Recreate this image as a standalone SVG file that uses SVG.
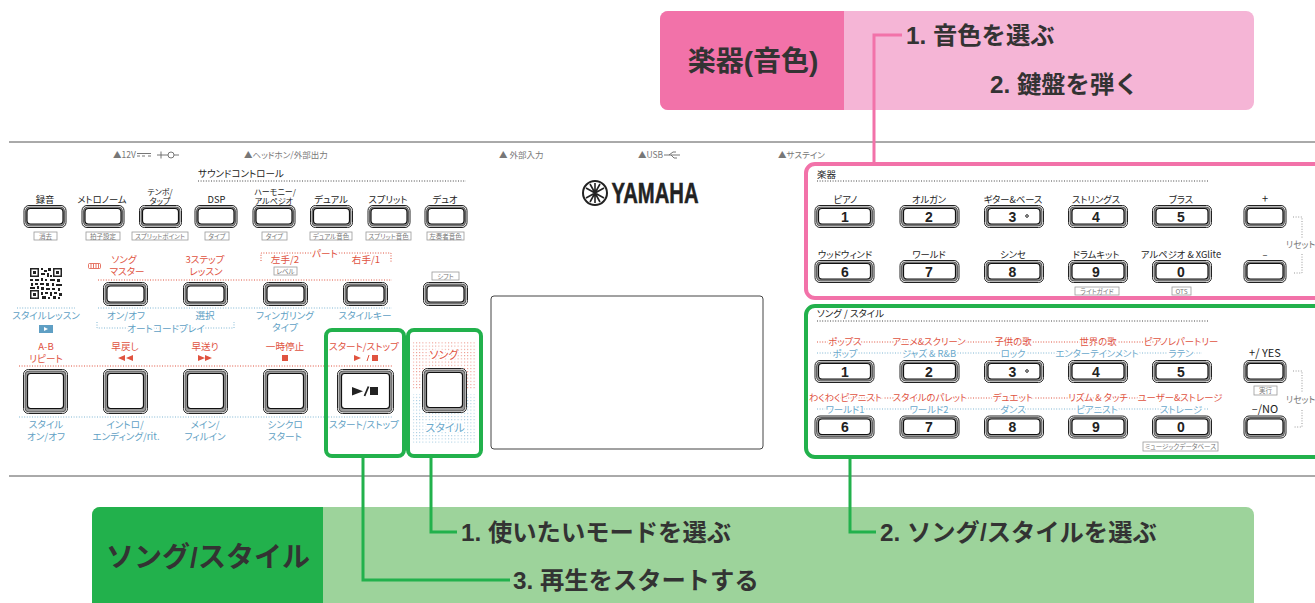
<svg xmlns="http://www.w3.org/2000/svg" width="1315" height="603" viewBox="0 0 1315 603">
<style>
text{font-family:"Noto Sans CJK JP","Noto Sans",sans-serif;text-anchor:middle;font-feature-settings:"palt"}
.k{font-size:9.300px;fill:#222}
.k8{font-size:8px;fill:#222}
.h{font-size:9.500px;fill:#222;text-anchor:start}
.r{font-size:9.600px;fill:#e0533f}
.b{font-size:9.600px;fill:#5f9fc4}
.hr{font-size:9.400px;fill:#e0533f;paint-order:stroke;stroke:#fff;stroke-width:3px}
.hb{font-size:9.400px;fill:#6aa8cb;paint-order:stroke;stroke:#fff;stroke-width:3px}
.g{font-size:8.500px;fill:#777;text-anchor:start}
.g2{font-size:8.800px;fill:#777;text-anchor:start}
.s{font-size:6.500px;fill:#777}
.d{font-family:"Liberation Sans",sans-serif;font-weight:bold;font-size:14px;fill:#222}
.t{font-family:"Liberation Sans","Noto Sans CJK JP",sans-serif;font-weight:700;font-size:24.300px;fill:#333;text-anchor:start;font-feature-settings:normal}
.tt{font-family:"Liberation Sans","Noto Sans CJK JP",sans-serif;font-weight:700;font-size:28px;fill:#333;font-feature-settings:normal}
.o{fill:#fff;stroke:#222;stroke-width:1}
.m{fill:#999;stroke:#333;stroke-width:.7}
.i{fill:#fff;stroke:#111;stroke-width:1.2}
.bx{fill:#fff;stroke:#999;stroke-width:.8}
.dot{fill:none;stroke-width:1;stroke-dasharray:1 1.6}
.dk{stroke:#444}.dr{stroke:#e0533f}.db{stroke:#7fb6d3}.dg{stroke:#999}
.rule{stroke:#555;stroke-width:1;fill:none}
.pk{fill:none;stroke:#f272a9;stroke-width:3}
.gn{fill:none;stroke:#22b14c;stroke-width:3}
.pb{fill:none;stroke:#f272a9;stroke-width:4}
.gb{fill:none;stroke:#22b14c;stroke-width:4}
</style>
<defs>
<symbol id="bs" overflow="visible"><rect class="o" x=".5" y=".5" width="42" height="22" rx="5"/><rect class="m" x="2" y="2" width="39" height="19" rx="4"/><rect class="i" x="3.5" y="3.5" width="36" height="15.5" rx="3.5"/></symbol>
<symbol id="bt" overflow="visible"><rect class="o" x=".5" y=".5" width="44" height="23" rx="5"/><rect class="m" x="2" y="2" width="41" height="20" rx="4"/><rect class="i" x="4" y="4" width="37" height="16" rx="3.5"/></symbol>
<symbol id="bw" overflow="visible"><rect class="o" x=".5" y=".5" width="59" height="22" rx="5"/><rect class="m" x="2" y="2" width="56" height="19" rx="4"/><rect class="i" x="4" y="3.5" width="52" height="15.500" rx="3.5"/></symbol>
<symbol id="bl" overflow="visible"><rect class="o" x=".5" y=".5" width="44" height="44" rx="5"/><rect class="m" x="2" y="2" width="41" height="41" rx="4"/><rect class="i" x="4.5" y="4.5" width="36" height="35" rx="3"/></symbol>
<symbol id="bp" overflow="visible"><rect class="o" x=".5" y=".5" width="56" height="44" rx="5"/><rect class="m" x="2" y="2" width="53" height="41" rx="4"/><rect class="i" x="4.5" y="4.5" width="48" height="35" rx="3"/></symbol>
<pattern id="pr" width="3.2" height="3.2" patternUnits="userSpaceOnUse"><rect width="1" height="1" fill="#e98a7d"/></pattern>
<pattern id="pb" width="3.2" height="3.2" patternUnits="userSpaceOnUse"><rect width="1" height="1" fill="#9cc6de"/></pattern>
</defs>
<rect width="1315" height="603" fill="#fff"/>

<g id="panel-lines">
<path class="rule" d="M9,142H1315M9,476H1315"/>
<path class="dot dk" d="M198,181H466M817,181H1209M817,321H1209"/>
<path class="dot dr" d="M98,280H392M19,366H392"/>
<path class="dot db" d="M17,308H75M98,308H392M19,417H392"/>
<path class="dot dr" d="M817,342H1214M817,398H1214"/>
<path class="dot db" d="M817,353H1202M817,409H1209"/>
<path class="dot dr" d="M261,261V253H391V262"/>
<path class="dot db" d="M97,322V328H234V322"/>
<path class="dot dg" d="M1293,217H1302V238M1302,254V273H1293M1293,371H1302V392M1302,410V427H1293"/>
</g>

<g id="jacks">
<text class="g" x="113" y="158">▲12V</text>
<path d="M137,153.500h14M137,156h3M142,156h3M148,156h3M157,155h8M161,151.500v7M165,155h3M174,155h5" stroke="#666" stroke-width=".9" fill="none"/><circle cx="171" cy="155" r="3" fill="none" stroke="#666" stroke-width=".9"/>
<text class="g" x="244" y="158">▲ヘッドホン/外部出力</text>
<text class="g" x="499" y="158">▲ 外部入力</text>
<text class="g" x="638" y="158">▲USB</text>
<path d="M664,155h16M669,155l4,-3h3M671,155l3,3h3" stroke="#666" stroke-width=".9" fill="none"/>
<text class="g" x="778" y="158">▲サステイン</text>
</g>

<g id="logo">
<circle cx="595" cy="193" r="12" fill="#fff" stroke="#222" stroke-width="2"/>
<path d="M595,183v20M586,188l18,10M586,198l18,-10M590,184l10,18M600,184l-10,18" stroke="#222" stroke-width="1.600"/>
<text x="655" y="203" textLength="87" lengthAdjust="spacingAndGlyphs" style="font-family:'Liberation Sans',sans-serif;font-weight:bold;font-size:29px;fill:#222;stroke:#222;stroke-width:.5;font-feature-settings:normal">YAMAHA</text>
</g>

<text class="h" x="198" y="177">サウンドコントロール</text>

<g id="btn-rec"><text class="k" x="45" y="203">録音</text><use href="#bs" x="23.500" y="205"/><rect class="bx" x="34" y="232" width="23" height="8"/><text class="s" x="45.500" y="238.500">消去</text></g>
<g id="btn-metro"><text class="k" x="102" y="203">メトロノーム</text><use href="#bs" x="81.500" y="205"/><rect class="bx" x="86" y="232" width="34" height="8"/><text class="s" x="103" y="238.500">拍子設定</text></g>
<g id="btn-tempo"><text class="k8" x="160" y="194.500">テンポ/</text><text class="k8" x="160" y="203.500">タップ</text><use href="#bs" x="139" y="205"/><rect class="bx" x="132" y="232" width="56" height="8"/><text class="s" x="160" y="238.500">スプリットポイント</text></g>
<g id="btn-dsp"><text class="k" x="216.500" y="203">DSP</text><use href="#bs" x="194.500" y="205"/><rect class="bx" x="205" y="232" width="24" height="8"/><text class="s" x="217" y="238.500">タイプ</text></g>
<g id="btn-harmony"><text class="k8" x="275" y="194.500">ハーモニー/</text><text class="k8" x="274" y="203.500">アルペジオ</text><use href="#bs" x="252.500" y="205"/><rect class="bx" x="262" y="232" width="25" height="8"/><text class="s" x="274.500" y="238.500">タイプ</text></g>
<g id="btn-dual"><text class="k" x="331" y="203">デュアル</text><use href="#bs" x="310" y="205"/><rect class="bx" x="310" y="232" width="42" height="8"/><text class="s" x="331" y="238.500">デュアル音色</text></g>
<g id="btn-split"><text class="k" x="388" y="203">スプリット</text><use href="#bs" x="367.500" y="205"/><rect class="bx" x="366" y="232" width="45" height="8"/><text class="s" x="388.500" y="238.500">スプリット音色</text></g>
<g id="btn-duo"><text class="k" x="445" y="203">デュオ</text><use href="#bs" x="424.500" y="205"/><rect class="bx" x="427" y="232" width="37" height="8"/><text class="s" x="445.500" y="238.500">左奏者音色</text></g>

<g id="qr"><path fill="#222" d="M30,268h9v9h-9zM53,268h9v9h-9zM30,290h9v9h-9z"/><path fill="#fff" d="M31.500,269.500h6v6h-6zM54.500,269.500h6v6h-6zM31.500,291.500h6v6h-6z"/><path fill="#222" d="M33,271h3v3h-3zM56,271h3v3h-3zM33,293h3v3h-3zM41,268h2v2h-2zM44,270h3v2h-3zM48,268h3v3h-3zM41,273h4v2h-4zM47,273h2v4h-2zM50,275h2v2h-2zM30,279h3v2h-3zM35,279h4v2h-4zM41,278h2v3h-2zM45,279h2v2h-2zM50,279h5v2h-5zM57,279h3v3h-3zM31,283h2v3h-2zM35,283h3v2h-3zM40,283h4v2h-4zM46,283h3v3h-3zM52,283h2v3h-2zM56,284h6v2h-6zM30,287h5v2h-5zM37,286h2v3h-2zM41,287h3v3h-3zM46,288h4v2h-4zM52,288h3v2h-3zM58,288h2v3h-2zM41,292h2v3h-2zM45,292h3v2h-3zM50,292h2v4h-2zM54,292h3v2h-3zM59,293h3v3h-3zM42,296h4v3h-4zM48,297h2v2h-2zM53,296h3v3h-3zM58,297h2v2h-2z"/></g>

<g id="btn-master"><text class="r" x="124" y="262.500">ソング</text><text class="r" x="127" y="274.500">マスター</text>
<rect x="88.500" y="263.500" width="12" height="5" rx="1" fill="#fff" stroke="#e0533f" stroke-width=".8"/><path d="M91,264v4M93.500,264v4M96,264v4M98.500,264v4" stroke="#e0533f" stroke-width=".8"/>
<use href="#bt" x="103" y="282"/><text class="b" x="126" y="319">オン/オフ</text></g>
<g id="btn-step"><text class="r" x="205" y="262.500">3ステップ</text><text class="r" x="206" y="274.500">レッスン</text><use href="#bt" x="183" y="282"/><text class="b" x="205" y="319">選択</text></g>
<g id="btn-left"><text class="r" x="285" y="263">左手/2</text><rect class="bx" x="274" y="267" width="23" height="8"/><text class="s" x="285.500" y="273.500">レベル</text><use href="#bt" x="263" y="282"/><text class="b" x="285" y="319">フィンガリング</text><text class="b" x="285" y="331">タイプ</text></g>
<g id="btn-right"><text class="r" x="366" y="263">右手/1</text><use href="#bt" x="343" y="282"/><text class="b" x="365" y="319">スタイルキー</text></g>
<g id="btn-shift"><rect class="bx" x="432" y="272" width="27" height="8"/><text class="s" x="445.500" y="278.500">シフト</text><use href="#bt" x="423" y="282"/></g>
<text class="r" x="325" y="257" style="paint-order:stroke;stroke:#fff;stroke-width:3px">パート</text>
<text class="b" x="166" y="332" style="paint-order:stroke;stroke:#fff;stroke-width:3px">オートコードプレイ</text>

<g id="lesson"><text class="b" x="46" y="319">スタイルレッスン</text><rect x="39" y="325" width="14" height="8" fill="#5f9fc4"/><path d="M44,327v4l4,-2z" fill="#fff"/></g>

<g id="btn-ab"><text class="r" x="46" y="350">A-B</text><text class="r" x="46" y="361.500">リピート</text><use href="#bl" x="23" y="369"/><text class="b" x="46" y="428">スタイル</text><text class="b" x="46" y="439.500">オン/オフ</text></g>
<g id="btn-rew"><text class="r" x="125" y="350">早戻し</text><path fill="#e0533f" d="M125,355v6l-7,-3zM133,355v6l-7,-3z"/><use href="#bl" x="103" y="369"/><text class="b" x="125" y="428">イントロ/</text><text class="b" x="126" y="439.500">エンディング/rit.</text></g>
<g id="btn-ff"><text class="r" x="205" y="350">早送り</text><path fill="#e0533f" d="M198,355v6l7,-3zM205,355v6l7,-3z"/><use href="#bl" x="183" y="369"/><text class="b" x="205" y="428">メイン/</text><text class="b" x="205" y="439.500">フィルイン</text></g>
<g id="btn-pause"><text class="r" x="285" y="350">一時停止</text><rect x="282" y="355" width="6" height="6" fill="#e0533f"/><use href="#bl" x="263" y="369"/><text class="b" x="285" y="428">シンクロ</text><text class="b" x="285" y="439.500">スタート</text></g>
<g id="btn-play"><text class="r" x="364" y="350">スタート/ストップ</text><path fill="#e0533f" d="M354,355v6l7,-3z"/><path d="M367,361l2,-6" stroke="#e0533f" fill="none"/><rect x="372" y="355" width="6" height="6" fill="#e0533f"/><use href="#bp" x="337" y="369"/><path fill="#222" d="M352,387v8.500l11,-4.200z"/><path d="M364.500,396l4,-9.500" stroke="#222" stroke-width="1.800"/><rect x="370" y="387" width="8" height="8" fill="#222"/><text class="b" x="364" y="428">スタート/ストップ</text></g>
<g id="btn-song"><rect x="413" y="341" width="63" height="48" fill="url(#pr)"/><rect x="413" y="394" width="63" height="49" fill="url(#pb)"/><text class="hr" x="444" y="359" style="font-size:11px">ソング</text><use href="#bl" x="422" y="368"/><text class="hb" x="445" y="432" style="font-size:11px">スタイル</text></g>

<rect id="display" x="491" y="296" width="272" height="153" rx="3" fill="#fff" stroke="#444" stroke-width="1"/>

<g id="box-voice"><text class="h" x="817" y="178">楽器</text></g>
<g id="voice-1"><text class="k" x="845.500" y="203">ピアノ</text><use href="#bw" x="814.500" y="205"/><text class="d" x="845" y="221.500">1</text></g>
<g id="voice-2"><text class="k" x="929" y="203">オルガン</text><use href="#bw" x="899.500" y="205"/><text class="d" x="929" y="221.500">2</text></g>
<g id="voice-3"><text class="k" x="1013" y="203">ギター&amp;ベース</text><use href="#bw" x="984" y="205"/><text class="d" x="1012.500" y="221.500">3</text><circle cx="1027" cy="216" r="1.300" fill="none" stroke="#222"/></g>
<g id="voice-4"><text class="k" x="1096" y="203">ストリングス</text><use href="#bw" x="1068" y="205"/><text class="d" x="1096" y="221.500">4</text></g>
<g id="voice-5"><text class="k" x="1181" y="203">ブラス</text><use href="#bw" x="1152" y="205"/><text class="d" x="1181" y="221.500">5</text></g>
<g id="voice-plus"><text class="k" x="1265" y="203" style="font-size:11px">+</text><use href="#bs" x="1243.500" y="205"/></g>
<g id="voice-6"><text class="k" x="845" y="258">ウッドウィンド</text><use href="#bw" x="814.500" y="260"/><text class="d" x="845" y="276.500">6</text></g>
<g id="voice-7"><text class="k" x="929" y="258">ワールド</text><use href="#bw" x="899.500" y="260"/><text class="d" x="929" y="276.500">7</text></g>
<g id="voice-8"><text class="k" x="1013" y="258">シンセ</text><use href="#bw" x="984" y="260"/><text class="d" x="1012.500" y="276.500">8</text></g>
<g id="voice-9"><text class="k" x="1096" y="258">ドラムキット</text><use href="#bw" x="1068" y="260"/><text class="d" x="1096" y="276.500">9</text><rect class="bx" x="1075" y="287" width="44" height="8"/><text class="s" x="1097" y="293.500">ライトガイド</text></g>
<g id="voice-0"><text class="k" x="1181" y="258">アルペジオ &amp; XGlite</text><use href="#bw" x="1152" y="260"/><text class="d" x="1181" y="276.500">0</text><rect class="bx" x="1172" y="287" width="19" height="8"/><text class="s" x="1181.500" y="293.500">OTS</text></g>
<g id="voice-minus"><text class="k" x="1265" y="258">–</text><use href="#bs" x="1243.500" y="260"/></g>
<text class="g2" x="1286" y="248">リセット</text>

<g id="box-song"><text class="h" x="817" y="317">ソング / スタイル</text></g>
<g id="song-1"><text class="hr" x="845" y="345">ポップス</text><text class="hb" x="845" y="357">ポップ</text><use href="#bw" x="814.500" y="360"/><text class="d" x="845" y="376.500">1</text></g>
<g id="song-2"><text class="hr" x="929" y="345">アニメ&amp;スクリーン</text><text class="hb" x="929" y="357">ジャズ &amp; R&amp;B</text><use href="#bw" x="899.500" y="360"/><text class="d" x="929" y="376.500">2</text></g>
<g id="song-3"><text class="hr" x="1013" y="345">子供の歌</text><text class="hb" x="1013" y="357">ロック</text><use href="#bw" x="984" y="360"/><text class="d" x="1012.500" y="376.500">3</text><circle cx="1027" cy="371" r="1.300" fill="none" stroke="#222"/></g>
<g id="song-4"><text class="hr" x="1098" y="345">世界の歌</text><text class="hb" x="1097" y="357">エンターテインメント</text><use href="#bw" x="1068" y="360"/><text class="d" x="1096" y="376.500">4</text></g>
<g id="song-5"><text class="hr" x="1181" y="345">ピアノレパートリー</text><text class="hb" x="1181" y="357">ラテン</text><use href="#bw" x="1152" y="360"/><text class="d" x="1181" y="376.500">5</text></g>
<g id="song-plus"><text class="k" x="1265" y="357" style="font-size:11px">+/ YES</text><use href="#bs" x="1243.500" y="360"/><rect class="bx" x="1254" y="386" width="23" height="9"/><text class="s" x="1265.500" y="393">実行</text></g>
<g id="song-6"><text class="hr" x="845.500" y="401">わくわくピアニスト</text><text class="hb" x="845" y="412.500">ワールド1</text><use href="#bw" x="814.500" y="415.500"/><text class="d" x="845" y="432">6</text></g>
<g id="song-7"><text class="hr" x="930" y="401">スタイルのパレット</text><text class="hb" x="929" y="412.500">ワールド2</text><use href="#bw" x="899.500" y="415.500"/><text class="d" x="929" y="432">7</text></g>
<g id="song-8"><text class="hr" x="1013" y="401">デュエット</text><text class="hb" x="1013" y="412.500">ダンス</text><use href="#bw" x="984" y="415.500"/><text class="d" x="1012.500" y="432">8</text></g>
<g id="song-9"><text class="hr" x="1098" y="401">リズム &amp; タッチ</text><text class="hb" x="1097" y="412.500">ピアニスト</text><use href="#bw" x="1068" y="415.500"/><text class="d" x="1096" y="432">9</text></g>
<g id="song-0"><text class="hr" x="1180" y="401">ユーザー&amp;ストレージ</text><text class="hb" x="1181" y="412.500">ストレージ</text><use href="#bw" x="1152" y="415.500"/><text class="d" x="1181" y="432">0</text><rect class="bx" x="1143" y="442" width="75" height="9"/><text class="s" x="1180.500" y="449">ミュージックデータベース</text></g>
<g id="song-minus"><text class="k" x="1265" y="413" style="font-size:11px">–/NO</text><use href="#bs" x="1243.500" y="415.500"/></g>
<text class="g2" x="1286" y="403">リセット</text>

<g id="callout-voice">
<path fill="#f5b5d6" d="M668,11H1246a8,8 0 0 1 8,8V102a8,8 0 0 1 -8,8H668a8,8 0 0 1 -8,-8V19a8,8 0 0 1 8,-8z"/>
<path fill="#f272a9" d="M668,11H844V110H668a8,8 0 0 1 -8,-8V19a8,8 0 0 1 8,-8z"/>
<text class="tt" x="753" y="71">楽器(音色)</text>
<text class="t" x="906" y="44">1. 音色を選ぶ</text>
<text class="t" x="990" y="93">2. 鍵盤を弾く</text>
</g>
<g id="callout-song">
<path fill="#9dd39b" d="M100,507H1246a8,8 0 0 1 8,8V603H92V515a8,8 0 0 1 8,-8z"/>
<path fill="#22b14c" d="M100,507H323V603H92V515a8,8 0 0 1 8,-8z"/>
<text class="tt" x="208" y="567">ソング/スタイル</text>
<text class="t" x="461" y="541">1. 使いたいモードを選ぶ</text>
<text class="t" x="880" y="541">2. ソング/スタイルを選ぶ</text>
<text class="t" x="513" y="589">3. 再生をスタートする</text>
</g>

<g id="highlights">
<rect class="pb" x="806" y="164" width="600" height="134" rx="9"/>
<rect class="gb" x="806" y="306" width="600" height="151" rx="9"/>
<rect class="gb" x="326" y="330" width="78" height="126" rx="6"/>
<rect class="gb" x="408" y="330" width="73" height="126" rx="6"/>
</g>

<g id="connectors">
<path class="pk" d="M874,163V35H902"/>
<path class="gn" d="M363,458V580H510"/>
<path class="gn" d="M431,458V532H457"/>
<path class="gn" d="M850,459V532H876"/>
</g>
</svg>
